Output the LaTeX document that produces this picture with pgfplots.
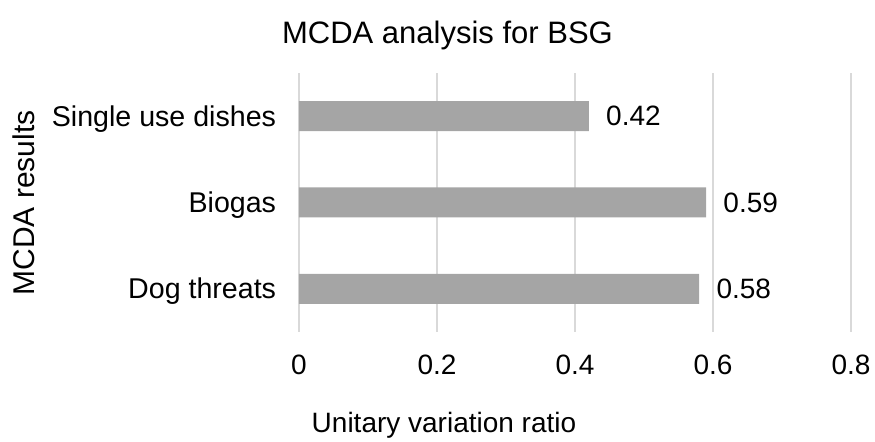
\documentclass[border=0pt]{standalone}
\usepackage{pgfplots}
\pgfplotsset{compat=1.18}
\usepackage{fontspec}
\setmainfont{Liberation Sans}
\definecolor{bargray}{HTML}{A5A5A5}
\definecolor{gridgray}{HTML}{D9D9D9}
\begin{document}
\begin{tikzpicture}
\useasboundingbox (-149.5pt,-55pt) rectangle (288pt,166pt);
\begin{axis}[
  at={(0,0)}, anchor=south west,
  scale only axis,
  width=276pt, height=129.5pt,
  xbar,
  bar width=15pt,
  xmin=0, xmax=0.8,
  ymin=-0.5, ymax=2.5,
  xtick={0,0.2,0.4,0.6,0.8},
  ytick={0,1,2},
  yticklabels={Dog threats, Biogas, Single use dishes},
  axis line style={draw=none},
  major tick style={draw=none},
  xmajorgrids,
  grid style={gridgray, line width=0.8pt},
  /pgf/number format/assume math mode=true,
  xticklabel style={font=\fontsize{14}{17}\selectfont, anchor=base, inner sep=0pt, yshift=-21.5pt},
  xticklabel={\pgfmathprintnumber[fixed,precision=1]{\tick}},
  yticklabel style={font=\fontsize{14.3}{17}\selectfont, anchor=base east, inner sep=0pt, xshift=-7pt, yshift=-5pt},
  nodes near coords,
  nodes near coords style={font=\fontsize{14}{17}\selectfont, anchor=west, inner sep=0pt, xshift=8.5pt, /pgf/number format/.cd, fixed, precision=2, fixed zerofill, assume math mode=true},
]
\addplot[fill=bargray, draw=none] coordinates {(0.58,0) (0.59,1) (0.42,2)};
\end{axis}
\node[anchor=base, font=\fontsize{15.5}{18}\selectfont] at (74.25pt,144pt) {MCDA analysis for BSG};
\node[anchor=base, font=\fontsize{14}{17}\selectfont] at (72.5pt,-50.5pt) {Unitary variation ratio};
\node[anchor=base, rotate=90, font=\fontsize{15}{18}\selectfont] at (-132pt,64.5pt) {MCDA results};
\end{tikzpicture}
\end{document}
